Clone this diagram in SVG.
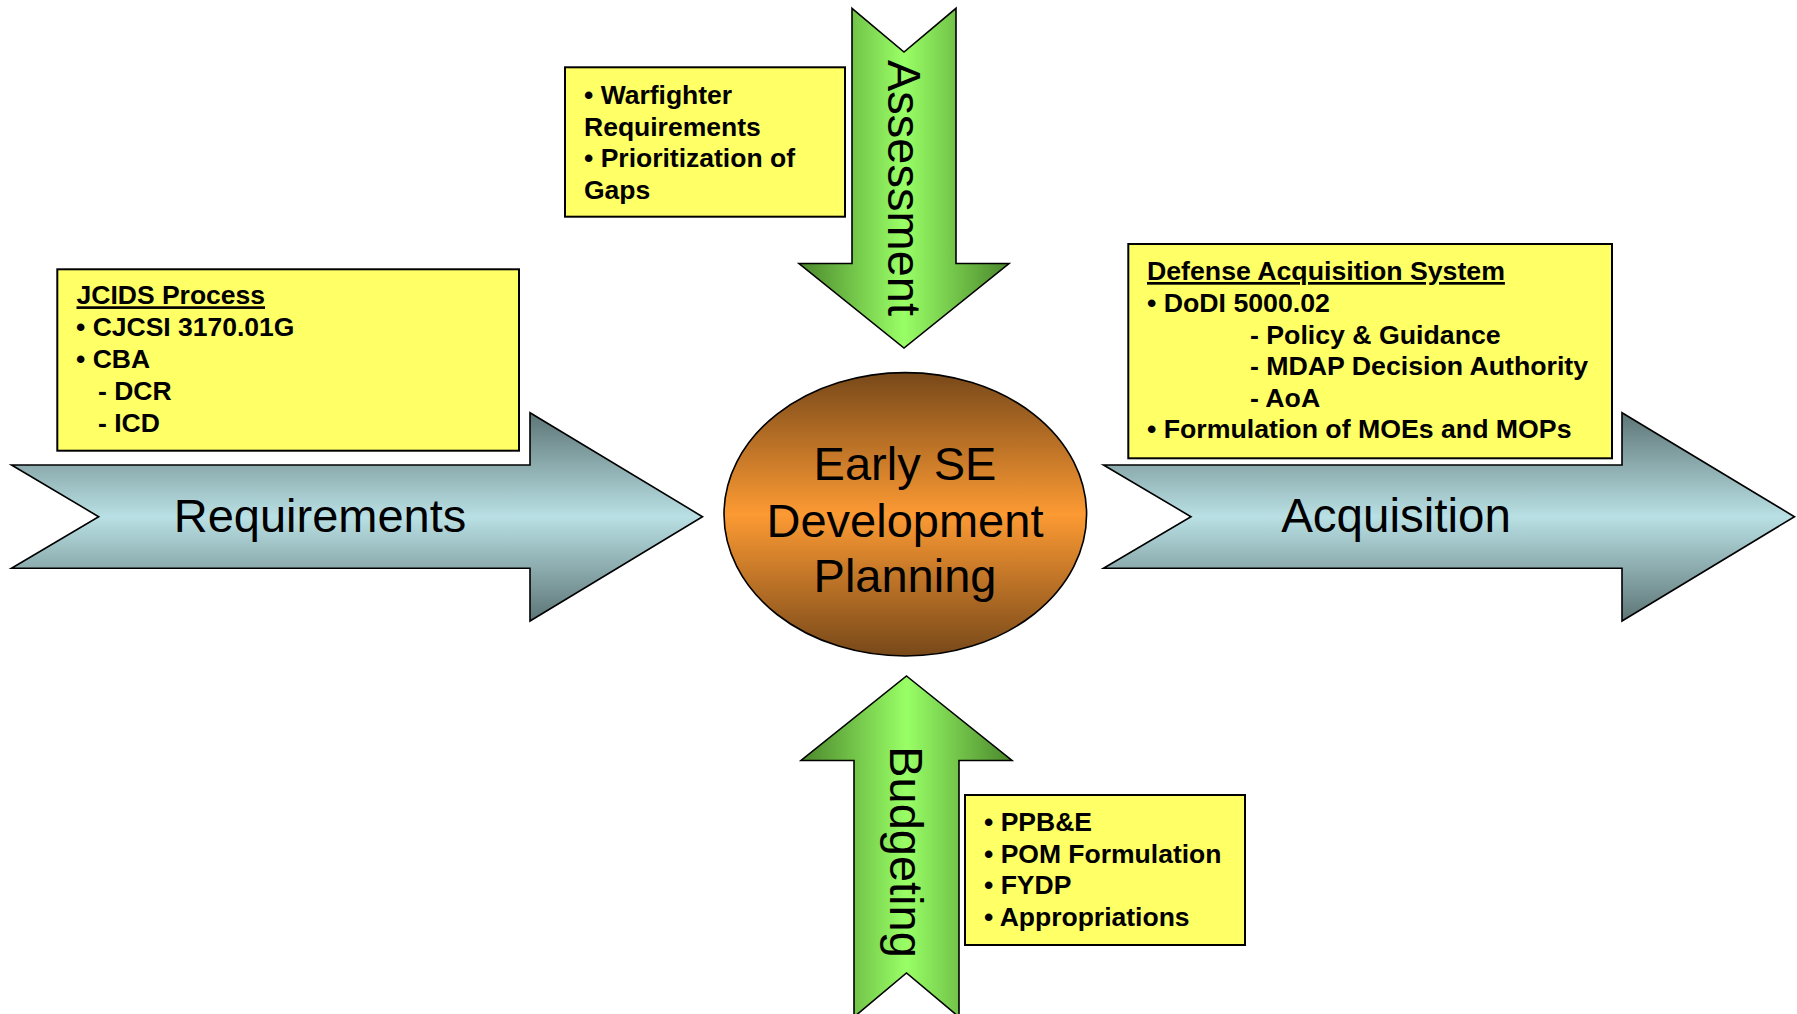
<svg xmlns="http://www.w3.org/2000/svg" width="1797" height="1014" viewBox="0 0 1797 1014">
  <defs>
    <linearGradient id="steelGrad" x1="0" y1="0" x2="0" y2="1">
      <stop offset="0" stop-color="#5d7576"/>
      <stop offset="0.5" stop-color="#b9e0e4"/>
      <stop offset="1" stop-color="#5d7576"/>
    </linearGradient>
    <linearGradient id="greenGrad" x1="0" y1="0" x2="1" y2="0">
      <stop offset="0" stop-color="#4b872c"/>
      <stop offset="0.5" stop-color="#99ff66"/>
      <stop offset="1" stop-color="#4b872c"/>
    </linearGradient>
    <linearGradient id="orangeGrad" x1="0" y1="0" x2="0" y2="1">
      <stop offset="0" stop-color="#774819"/>
      <stop offset="0.5" stop-color="#fc9a33"/>
      <stop offset="1" stop-color="#774819"/>
    </linearGradient>
    <style>
      .flow { fill: url(#steelGrad); stroke: #000; stroke-width: 1.6; stroke-linejoin: miter; }
      .vert { fill: url(#greenGrad); stroke: #000; stroke-width: 1.6; stroke-linejoin: miter; }
      .note { fill: #ffff66; stroke: #000; stroke-width: 2; }
      .big { font-family: "Liberation Sans", Arial, sans-serif; font-size: 47px; fill: #000; }
      .bul { font-family: "Liberation Sans", Arial, sans-serif; font-weight: bold; font-size: 26.5px; fill: #000; }
    </style>
  </defs>

  <rect width="1797" height="1014" fill="#ffffff"/>

  <!-- flow arrows -->
  <g id="connectors">
    <g id="arrow-requirements">
      <polygon class="flow" points="11.5,465 530,465 530,412.7 702.5,516.7 530,621 530,568.3 11.5,568.3 98.7,516.7"/>
      <text class="big" x="320" y="532" text-anchor="middle">Requirements</text>
    </g>
    <g id="arrow-acquisition">
      <polygon class="flow" points="1103.5,465 1622,465 1622,412.7 1794.5,516.7 1622,621 1622,568.3 1103.5,568.3 1191,516.7"/>
      <text class="big" x="1396" y="532" text-anchor="middle" style="font-size:47.5px">Acquisition</text>
    </g>
    <g id="arrow-assessment">
      <polygon class="vert" points="852,8.3 904,52 956,8.3 956,263.5 1009,263.5 904,348 799,263.5 852,263.5"/>
      <text class="big" transform="translate(887.5,188) rotate(90)" text-anchor="middle">Assessment</text>
    </g>
    <g id="arrow-budgeting">
      <polygon class="vert" points="906.5,676 1012,760.5 959,760.5 959,1017 906.5,973 854,1017 854,760.5 801,760.5"/>
      <text class="big" transform="translate(890,852) rotate(90)" text-anchor="middle">Budgeting</text>
    </g>
  </g>

  <!-- central node -->
  <g id="early-se">
    <ellipse cx="905.3" cy="514.3" rx="181.3" ry="141.7" fill="url(#orangeGrad)" stroke="#000" stroke-width="1.6"/>
    <text class="big" x="905" y="480" text-anchor="middle">Early SE</text>
    <text class="big" x="905" y="536.5" text-anchor="middle">Development</text>
    <text class="big" x="905" y="592" text-anchor="middle">Planning</text>
  </g>

  <!-- JCIDS note -->
  <g id="jcids-note">
    <rect class="note" x="57.3" y="269.3" width="461.7" height="181.4"/>
    <text class="bul" x="76.5" y="304.3" text-decoration="underline">JCIDS Process</text>
    <text class="bul" x="76" y="336">• CJCSI 3170.01G</text>
    <text class="bul" x="76" y="368">• CBA</text>
    <text class="bul" x="98" y="400">- DCR</text>
    <text class="bul" x="98" y="432">- ICD</text>
  </g>

  <!-- assessment note -->
  <g id="assessment-note">
    <rect class="note" x="565" y="67.3" width="280" height="149.4"/>
    <text class="bul" x="584" y="104">• Warfighter</text>
    <text class="bul" x="584" y="135.5">Requirements</text>
    <text class="bul" x="584" y="167">• Prioritization of</text>
    <text class="bul" x="584" y="198.5">Gaps</text>
  </g>

  <!-- acquisition note -->
  <g id="acquisition-note">
    <rect class="note" x="1128.3" y="244" width="483.7" height="214.3"/>
    <text class="bul" x="1147" y="280" text-decoration="underline" style="font-size:26.7px">Defense Acquisition System</text>
    <text class="bul" x="1147" y="312" style="font-size:26.7px">• DoDI 5000.02</text>
    <text class="bul" x="1250" y="343.5" style="font-size:26.7px">- Policy &amp; Guidance</text>
    <text class="bul" x="1250" y="375" style="font-size:26.7px">- MDAP Decision Authority</text>
    <text class="bul" x="1250" y="406.5" style="font-size:26.7px">- AoA</text>
    <text class="bul" x="1147" y="438" style="font-size:26.7px">• Formulation of MOEs and MOPs</text>
  </g>

  <!-- budgeting note -->
  <g id="budgeting-note">
    <rect class="note" x="965" y="795" width="280" height="150"/>
    <text class="bul" x="984" y="831">• PPB&amp;E</text>
    <text class="bul" x="984" y="862.5">• POM Formulation</text>
    <text class="bul" x="984" y="894">• FYDP</text>
    <text class="bul" x="984" y="926">• Appropriations</text>
  </g>
</svg>
